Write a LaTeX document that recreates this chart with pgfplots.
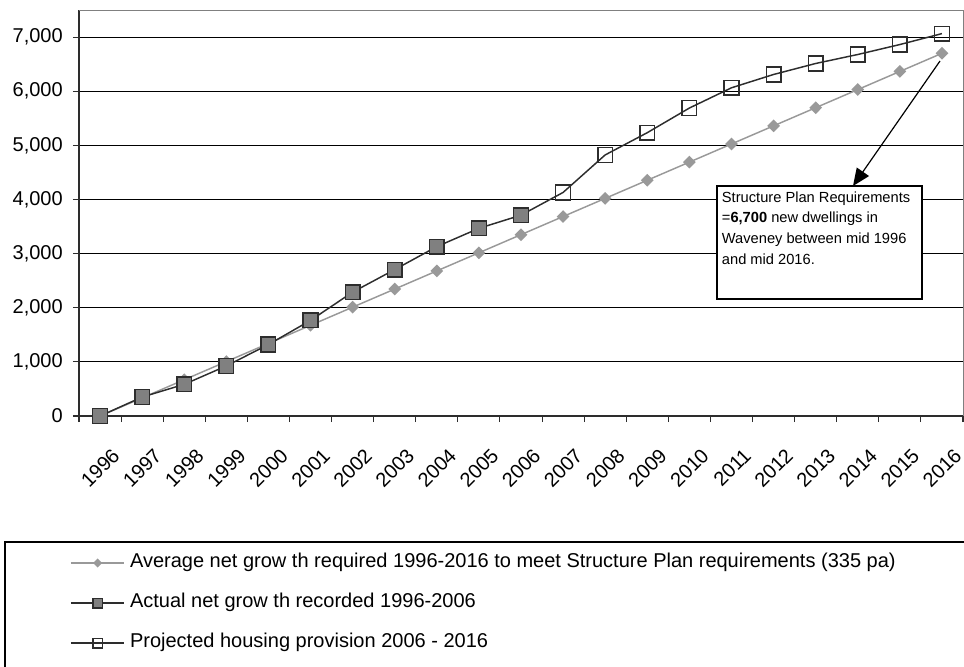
\documentclass[border=0pt]{standalone}
\usepackage{pgfplots}
\pgfplotsset{compat=1.18}
\usepackage{fontspec}
\setmainfont{Liberation Sans}
\usetikzlibrary{arrows.meta}
\definecolor{avgc}{RGB}{153,153,153}
\definecolor{darkc}{RGB}{45,45,45}
\definecolor{fillc}{RGB}{128,128,128}
\newcommand\tf{\fontsize{15}{18}\selectfont}
\pgfplotstableread{
x y
0 0
1 335
2 670
3 1005
4 1340
5 1675
6 2010
7 2345
8 2680
9 3015
10 3350
11 3685
12 4020
13 4355
14 4690
15 5025
16 5360
17 5695
18 6030
19 6365
20 6700
}\avgtab
\pgfplotstableread{
x y
0 0
1 350
2 585
3 925
4 1320
5 1766
6 2288
7 2705
8 3129
9 3467
10 3710
}\acttab
\pgfplotstableread{
x y
10 3710
11 4130
12 4823
13 5234
14 5689
15 6063
16 6309
17 6512
18 6678
19 6862
20 7064
}\projtab
\begin{document}
\begin{tikzpicture}
\begin{axis}[
  at={(0,0)}, anchor=south west,
  scale only axis, width=663pt, height=304.5pt,
  xmin=-0.5, xmax=20.5, ymin=0, ymax=7500,
  clip=false,
  axis lines*=left,
  axis line style={darkc, line width=1.1pt, -},
  xtick={0,...,20},
  xticklabels={1996,1997,1998,1999,2000,2001,2002,2003,2004,2005,2006,2007,2008,2009,2010,2011,2012,2013,2014,2015,2016},
  minor xtick={-0.5,0.5,...,20.5},
  major x tick style={draw=none},
  minor x tick style={darkc, line width=0.8pt},
  minor tick length=4.5pt,
  ytick={0,1000,...,7000},
  major y tick style={darkc, line width=0.8pt},
  major tick length=4.5pt,
  tick align=outside,
  ymajorgrids,
  major grid style={black, line width=0.75pt},
  scaled y ticks=false,
  /pgf/number format/assume math mode=true,
  /pgf/number format/1000 sep={,},
  tick label style={font=\tf},
  yticklabel style={anchor=east, inner sep=0pt, xshift=-7.5pt},
  xticklabel style={rotate=45, anchor=north east, inner sep=0pt, xshift=-7.5pt, yshift=-19pt},
  legend style={at={(axis description cs:0,0)}, anchor=west, xshift=-6.75pt, yshift=-140.25pt,
    draw=none, fill=none, inner sep=0pt, row sep=17pt, column sep=3.75pt,
    nodes={inner sep=0pt, text height=10pt, text depth=3pt},
    font=\fontsize{15}{17}\selectfont},
  legend cell align=left,
  legend image code/.code={\draw[#1, mark repeat=2, mark phase=2, /tikz/every mark/.append style={scale=0.65}] plot coordinates {(0pt,0pt) (20pt,0pt) (40pt,0pt)};},
]
\addlegendimage{avgc, line width=1.1pt, mark=diamond*, mark size=4pt, mark options={fill=avgc, draw=avgc, xscale=1.33}}
\addlegendentry{Average net grow th required 1996-2016 to meet Structure Plan requirements (335 pa)}
\addlegendimage{darkc, line width=1.1pt, mark=square*, mark size=5.5pt, mark options={fill=fillc, draw=darkc, line width=1.1pt}}
\addlegendentry{Actual net grow th recorded 1996-2006}
\addlegendimage{darkc, line width=1.1pt, mark=square, mark size=5.5pt, mark options={draw=darkc, line width=1.1pt}}
\addlegendentry{Projected housing provision 2006 - 2016}
\draw[fillc, line width=0.75pt] (rel axis cs:0,1) -- (rel axis cs:1,1) -- (rel axis cs:1,0);
\addplot[forget plot, avgc, line width=1.1pt, mark=diamond*, mark size=4pt, mark options={fill=avgc, draw=avgc, xscale=1.33}] table[x=x,y=y] {\avgtab};
\addplot[forget plot, darkc, line width=1.1pt, mark=square, mark size=5.5pt, mark options={draw=darkc, line width=1.1pt}] table[x=x,y=y] {\projtab};
\addplot[forget plot, darkc, line width=1.1pt, mark=square*, mark size=5.5pt, mark options={fill=fillc, draw=darkc, line width=1.1pt}] table[x=x,y=y] {\acttab};
\end{axis}
% annotation
\draw[black, line width=0.9pt, fill=white] (478.5pt,87.75pt) rectangle (632.25pt,172.5pt);
\node[anchor=north west, inner sep=0pt, align=left, font=\fontsize{11}{15.5}\selectfont] at (482pt,168.5pt)
  {Structure Plan Requirements\\=\textbf{6,700} new dwellings in\\Waveney between mid 1996\\and mid 2016.};
\draw[black, line width=0.9pt, -{Triangle[length=13pt, width=11pt]}] (645.75pt,266.25pt) -- (580.5pt,172.5pt);
% legend frame
\draw[black, line width=0.9pt] (-55.5pt,-213pt) -- (-55.5pt,-94.5pt) -- (690pt,-94.5pt);
\pgfresetboundingbox
\useasboundingbox (-59.25pt,-188.25pt) rectangle (663.75pt,312pt);
\end{tikzpicture}
\end{document}
